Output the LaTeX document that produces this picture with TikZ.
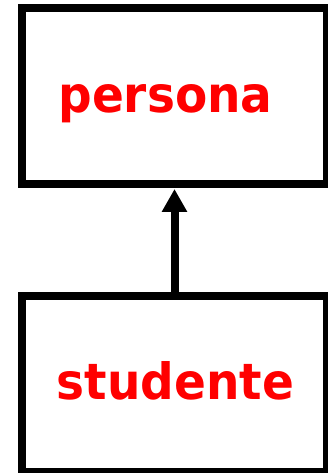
\documentclass[tikz,border=0pt]{standalone}
\usepackage{fontspec}
\setmainfont{DejaVu Sans}
\usetikzlibrary{arrows.meta}
\newcommand{\narrowtext}[1]{\scalebox{0.94}[1]{#1}}
\begin{document}
\begin{tikzpicture}[x=1pt,y=1pt,
  box/.style={draw=black,line width=8pt,rectangle,inner sep=0pt,minimum width=305pt,minimum height=176pt},
  lbl/.style={text=red,font=\fontsize{50}{54}\bfseries\selectfont,inner sep=0pt,anchor=base},
  conn/.style={draw=black,line width=8pt,-{Triangle[width=24pt,length=23pt]}}]
\useasboundingbox (0,0) rectangle (327,473);
\node[box] (persona) at (174.5,377) {};
\node[box] (studente) at (174.5,89) {};
\node[lbl] (tp) at (165.5,360) {\narrowtext{persona}};
\node[lbl] (ts) at (175.5,73) {\narrowtext{studente}};
\draw[conn,shorten >=1pt] (studente.north) -- (persona.south);
\end{tikzpicture}
\end{document}
